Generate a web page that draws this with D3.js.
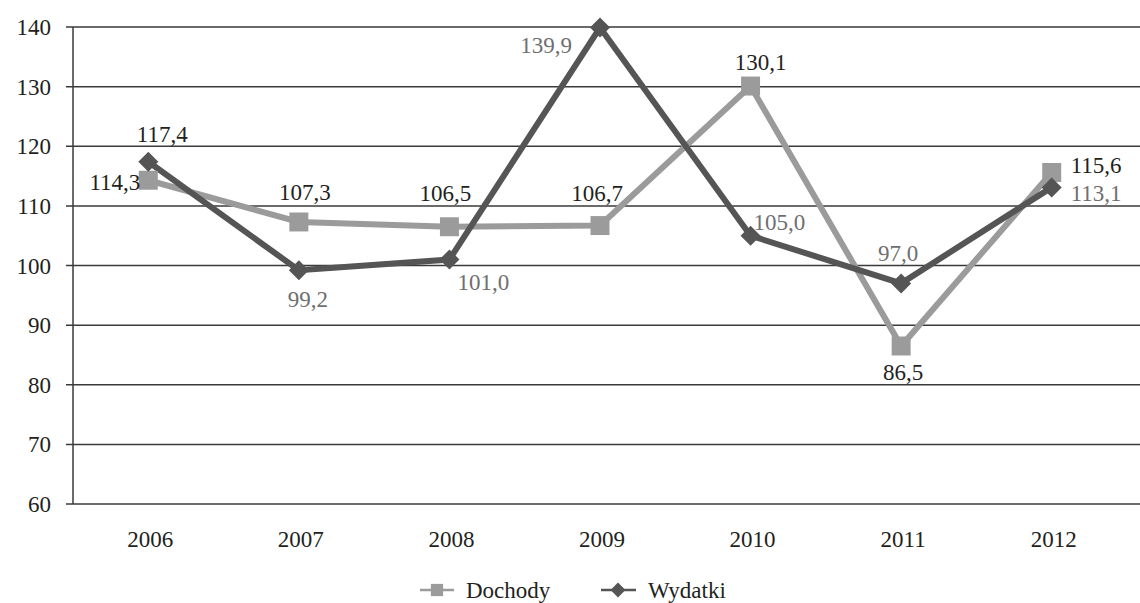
<!DOCTYPE html>
<html><head><meta charset="utf-8">
<script src="https://cdn.jsdelivr.net/npm/d3@7"></script>
<style>body{margin:0;background:#fff}svg{display:block}</style>
</head><body><svg id="c" width="1140" height="603"></svg>
<script>
const years = ["2006","2007","2008","2009","2010","2011","2012"];
const dochody = [114.3, 107.3, 106.5, 106.7, 130.1, 86.5, 115.6];
const wydatki = [117.4, 99.2, 101.0, 139.9, 105.0, 97.0, 113.1];
const yTicks = [60,70,80,90,100,110,120,130,140];

// label offsets relative to point: [dx, dy, anchor]
const dochodyLabelOff = [[-8,10,"end"],[6,-22,"middle"],[-4,-26,"middle"],[-3,-25,"middle"],[10,-16,"middle"],[2,34,"middle"],[19,1,"start"]];
const wydatkiLabelOff = [[14,-20,"middle"],[9,37,"middle"],[8,30,"start"],[-28,25,"end"],[3,-6,"start"],[-3,-22,"middle"],[19,14,"start"]];

const FONT = "Liberation Serif, DejaVu Serif, serif";
const svg = d3.select("#c");
const L = 73, R = 1127, T = 27, B = 504;
const x = d3.scaleBand().domain(years).range([L, R]);
const y = d3.scaleLinear().domain([60,140]).range([B, T]);
const cx = d => x(d) + x.bandwidth()/2;
const fmt = v => v.toFixed(1).replace(".", ",");
const txt = "#231f20";

// grid
svg.append("g").selectAll("line").data(yTicks).join("line")
  .attr("x1", 66).attr("x2", 1140).attr("y1", d=>y(d)).attr("y2", d=>y(d))
  .attr("stroke", "#3a3a3a").attr("stroke-width", 1.5);
svg.append("line").attr("x1", L).attr("x2", L).attr("y1", T).attr("y2", B)
  .attr("stroke", "#3a3a3a").attr("stroke-width", 1.5);
svg.append("g").selectAll("text").data(yTicks).join("text")
  .style("font-family", FONT)
  .attr("x", 51).attr("y", d=>y(d)).attr("dy", "0.35em").attr("text-anchor","end")
  .attr("font-size", 23).attr("fill", txt).text(d=>d);
svg.append("g").selectAll("text").data(years).join("text")
  .style("font-family", FONT)
  .attr("x", d=>cx(d)+2).attr("y", 547).attr("text-anchor","middle")
  .attr("font-size", 23).attr("fill", txt).text(d=>d);

const line = d3.line().x((d,i)=>cx(years[i])).y(d=>y(d));
const cD = "#9b9b9b", cW = "#555555";
svg.append("path").datum(dochody).attr("d", line).attr("fill","none")
  .attr("stroke", cD).attr("stroke-width", 6).attr("stroke-linejoin","miter");
svg.append("path").datum(wydatki).attr("d", line).attr("fill","none")
  .attr("stroke", cW).attr("stroke-width", 6).attr("stroke-linejoin","miter");

const sq = d3.symbol().type(d3.symbolSquare).size(360);
const dm = d3.symbol().type(d3.symbolSquare).size(200);
svg.append("g").selectAll("path").data(dochody).join("path")
  .attr("d", sq).attr("transform", (d,i)=>`translate(${cx(years[i])},${y(d)})`).attr("fill", cD);
svg.append("g").selectAll("path").data(wydatki).join("path")
  .attr("d", dm).attr("transform", (d,i)=>`translate(${cx(years[i])},${y(d)}) rotate(45)`).attr("fill", cW);

function labels(data, offs, colorFn){
  svg.append("g").selectAll("text").data(data).join("text")
    .style("font-family", FONT)
    .attr("x", (d,i)=>cx(years[i])+offs[i][0])
    .attr("y", (d,i)=>y(d)+offs[i][1])
    .attr("text-anchor", (d,i)=>offs[i][2])
    .attr("font-size", 23).attr("fill", (d,i)=>colorFn(i)).text(d=>fmt(d));
}
labels(dochody, dochodyLabelOff, i=>txt);
labels(wydatki, wydatkiLabelOff, i=> i===0 ? txt : "#6f6f6f");

// legend
const lg = svg.append("g");
lg.append("line").attr("x1",420).attr("x2",454).attr("y1",590).attr("y2",590).attr("stroke",cD).attr("stroke-width",2.5);
lg.append("path").attr("d", d3.symbol().type(d3.symbolSquare).size(150)).attr("transform","translate(437,590)").attr("fill",cD);
lg.append("text").style("font-family", FONT).attr("x",466).attr("y",598).attr("font-size",23).attr("fill",txt).text("Dochody");
lg.append("line").attr("x1",601).attr("x2",636).attr("y1",590).attr("y2",590).attr("stroke",cW).attr("stroke-width",2.5);
lg.append("path").attr("d", d3.symbol().type(d3.symbolSquare).size(110)).attr("transform","translate(618,590) rotate(45)").attr("fill",cW);
lg.append("text").style("font-family", FONT).attr("x",648).attr("y",598).attr("font-size",23).attr("fill",txt).text("Wydatki");
</script></body></html>
